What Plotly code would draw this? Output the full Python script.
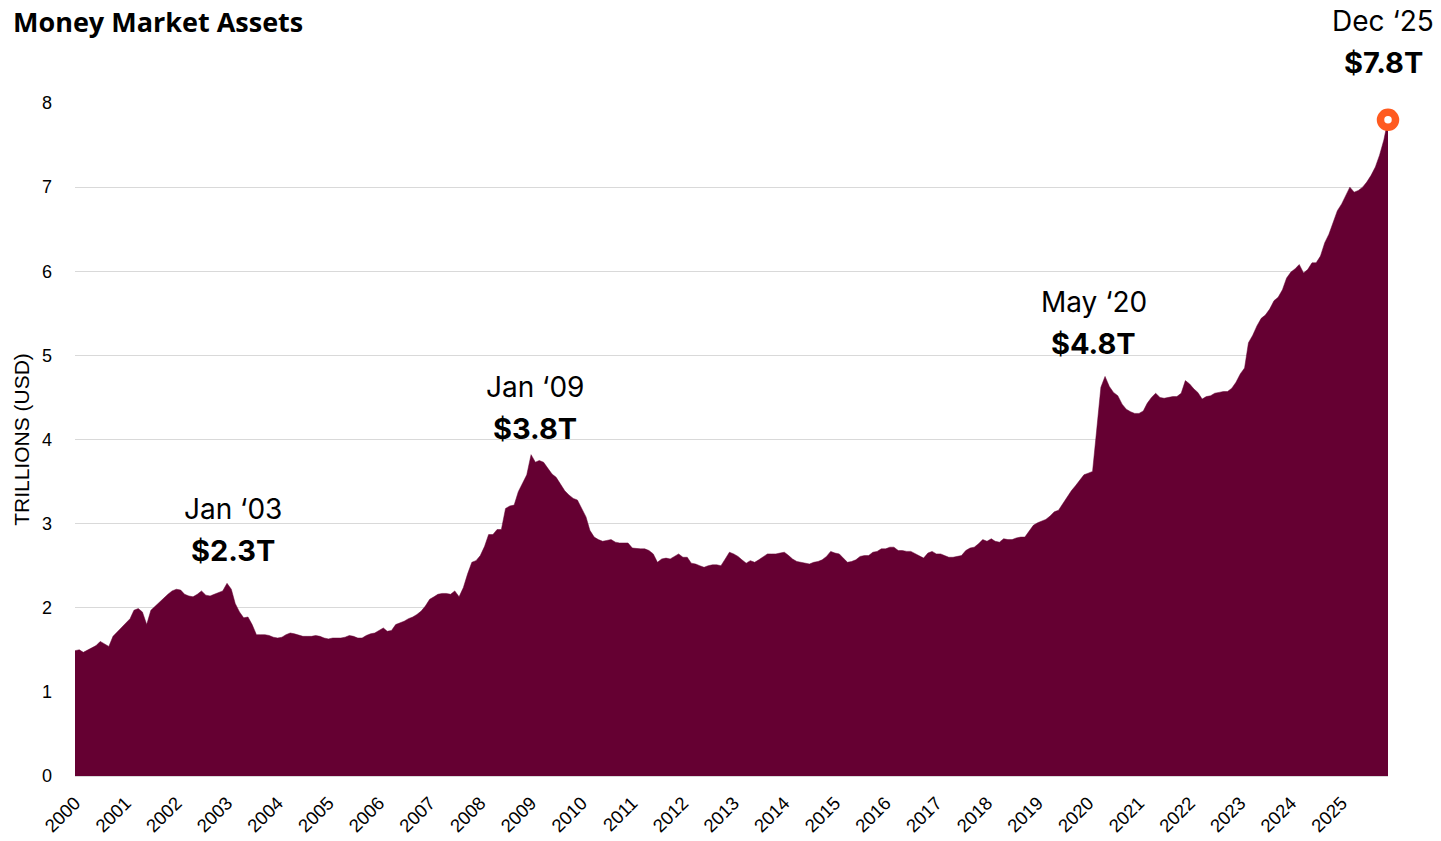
import plotly.graph_objects as go
import pandas as pd

# Monthly money market assets, trillions USD
v2000 = [1.49, 1.50, 1.47, 1.50, 1.53, 1.55, 1.60, 1.57, 1.54, 1.66, 1.71, 1.77]
v2001 = [1.82, 1.87, 1.97, 1.99, 1.95, 1.80, 1.97, 2.02, 2.07, 2.12, 2.16, 2.20]
v2002 = [2.22, 2.21, 2.16, 2.14, 2.13, 2.16, 2.20, 2.15, 2.14, 2.16, 2.18, 2.20]
v2003 = [2.29, 2.22, 2.05, 1.95, 1.88, 1.89, 1.80, 1.68, 1.68, 1.68, 1.67, 1.65]
v2004 = [1.64, 1.65, 1.68, 1.70, 1.69, 1.67, 1.66, 1.66, 1.66, 1.67, 1.66, 1.64]
v2005 = [1.63, 1.64, 1.64, 1.64, 1.65, 1.67, 1.66, 1.64, 1.64, 1.67, 1.69, 1.70]
v2006 = [1.73, 1.76, 1.72, 1.73, 1.80, 1.82, 1.84, 1.87, 1.89, 1.92, 1.96, 2.02]
v2007 = [2.10, 2.13, 2.16, 2.17, 2.17, 2.16, 2.20, 2.13, 2.24, 2.40, 2.54, 2.56]
v2008 = [2.62, 2.73, 2.87, 2.87, 2.93, 2.93, 3.18, 3.21, 3.22, 3.38, 3.48, 3.58]
v2009 = [3.82, 3.73, 3.75, 3.73, 3.66, 3.59, 3.55, 3.47, 3.39, 3.34, 3.30, 3.28]
v2010 = [3.18, 3.08, 2.92, 2.84, 2.81, 2.79, 2.80, 2.81, 2.78, 2.77, 2.77, 2.77]
v2011 = [2.71, 2.70, 2.70, 2.70, 2.68, 2.64, 2.54, 2.58, 2.59, 2.58, 2.61, 2.64]
v2012 = [2.60, 2.60, 2.53, 2.52, 2.50, 2.48, 2.50, 2.51, 2.51, 2.50, 2.58, 2.66]
v2013 = [2.64, 2.61, 2.57, 2.53, 2.56, 2.54, 2.57, 2.60, 2.64, 2.64, 2.64, 2.65]
v2014 = [2.66, 2.62, 2.58, 2.55, 2.54, 2.53, 2.52, 2.54, 2.55, 2.57, 2.61, 2.67]
v2015 = [2.65, 2.64, 2.59, 2.54, 2.55, 2.57, 2.61, 2.62, 2.62, 2.66, 2.67, 2.70]
v2016 = [2.70, 2.72, 2.72, 2.68, 2.68, 2.67, 2.67, 2.64, 2.61, 2.59, 2.65, 2.67]
v2017 = [2.64, 2.64, 2.62, 2.60, 2.60, 2.61, 2.62, 2.68, 2.71, 2.72, 2.76, 2.81]
v2018 = [2.79, 2.82, 2.79, 2.78, 2.82, 2.81, 2.81, 2.83, 2.84, 2.84, 2.91, 2.98]
v2019 = [3.01, 3.03, 3.05, 3.09, 3.14, 3.16, 3.24, 3.31, 3.39, 3.45, 3.51, 3.58]
v2020 = [3.60, 3.62, 4.10, 4.62, 4.75, 4.63, 4.56, 4.52, 4.42, 4.36, 4.33, 4.31]
v2021 = [4.31, 4.34, 4.43, 4.50, 4.55, 4.50, 4.49, 4.50, 4.51, 4.51, 4.55, 4.70]
v2022 = [4.66, 4.60, 4.56, 4.48, 4.51, 4.52, 4.55, 4.56, 4.57, 4.57, 4.61, 4.68]
v2023 = [4.78, 4.85, 5.15, 5.24, 5.35, 5.44, 5.48, 5.55, 5.65, 5.69, 5.78, 5.92]
v2024 = [5.99, 6.03, 6.08, 5.98, 6.02, 6.10, 6.10, 6.18, 6.34, 6.44, 6.57, 6.72]
v2025 = [6.80, 6.91, 7.00, 6.94, 6.96, 7.00, 7.06, 7.14, 7.24, 7.38, 7.56, 7.80]

values = (v2000 + v2001 + v2002 + v2003 + v2004 + v2005 + v2006 + v2007 + v2008
          + v2009 + v2010 + v2011 + v2012 + v2013 + v2014 + v2015 + v2016 + v2017
          + v2018 + v2019 + v2020 + v2021 + v2022 + v2023 + v2024 + v2025)
dates = pd.date_range("2000-01-01", periods=len(values), freq="MS")

tick_years = [str(y) for y in range(2000, 2026)]
tick_vals = [f"{y}-01-01" for y in range(2000, 2026)]
y_ticks = [0, 1, 2, 3, 4, 5, 6, 7, 8]

# Callouts: label, value label, x date, label y, value y
callouts = [
    ("Jan \u201803", "$2.3T", "2003-02-10", 3.17, 2.68),
    ("Jan \u201809", "$3.8T", "2009-02-01", 4.63, 4.13),
    ("May \u201820", "$4.8T", "2020-02-10", 5.64, 5.14),
]
last_label = ("Dec \u201825", "$7.8T")

FILL = "#650032"
ORANGE = "#FF5A1F"
FONT = "Inter"

fig = go.Figure()
fig.add_trace(go.Scatter(
    x=dates, y=values, mode="lines", fill="tozeroy",
    line=dict(color=FILL, width=0.5), fillcolor=FILL,
    hoverinfo="x+y", showlegend=False,
))
fig.add_trace(go.Scatter(
    x=[dates[-1]], y=[values[-1]], mode="markers",
    marker=dict(size=15, color="white", line=dict(color=ORANGE, width=7.5)),
    showlegend=False, cliponaxis=False,
))

for lab, val, xd, y1, y2 in callouts:
    fig.add_annotation(x=xd, y=y1, xref="x", yref="y", text=lab, showarrow=False,
                       xanchor="center", yanchor="middle",
                       font=dict(family=FONT, size=28, color="#000000"))
    fig.add_annotation(x=xd, y=y2, xref="x", yref="y", text=f"<b>{val}</b>", showarrow=False,
                       xanchor="center", yanchor="middle",
                       font=dict(family=FONT, size=29, color="#000000"))

PW = 1441 - 75 - 53
PH = 841 - 103 - 65
fig.add_annotation(x=(1383 - 75) / PW, y=1 + (103 - 21) / PH, xref="paper", yref="paper",
                   text=last_label[0], showarrow=False, xanchor="center", yanchor="middle",
                   font=dict(family=FONT, size=28, color="#000000"))
fig.add_annotation(x=(1383 - 75) / PW, y=1 + (103 - 63) / PH, xref="paper", yref="paper",
                   text=f"<b>{last_label[1]}</b>", showarrow=False, xanchor="center",
                   yanchor="middle", font=dict(family=FONT, size=29, color="#000000"))

fig.update_layout(
    width=1441, height=841,
    margin=dict(l=75, r=53, t=103, b=65, autoexpand=False),
    plot_bgcolor="white", paper_bgcolor="white",
    title=dict(text="<b>Money Market Assets</b>", x=13 / 1441, y=1 - 23 / 841,
               xref="container", yref="container", xanchor="left", yanchor="middle",
               font=dict(family="Open Sans", size=27, color="#000000")),
    xaxis=dict(
        range=[dates[0], dates[-1]], tickvals=tick_vals, ticktext=tick_years,
        tickangle=-45, showgrid=False, showline=True, linecolor="#D9D9D9", linewidth=1,
        ticks="", tickfont=dict(family="Liberation Sans", size=18.5, color="#000000"),
        ticklabelstandoff=8, automargin=False,
    ),
    yaxis=dict(
        range=[0, 8], tickvals=y_ticks, showgrid=True, gridcolor="#D9D9D9", gridwidth=1,
        zeroline=False, ticks="", ticklabelstandoff=22, automargin=False,
        tickfont=dict(family="Liberation Sans", size=18, color="#000000"),
        title=dict(text="TRILLIONS (USD)", standoff=6,
                   font=dict(family="Liberation Sans", size=21, color="#000000")),
    ),
)

fig.write_html("out.html")
